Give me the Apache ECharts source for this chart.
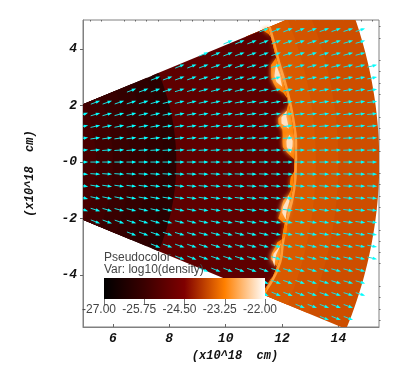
<!DOCTYPE html>
<html>
<head>
<meta charset="utf-8">
<style>
  html, body { margin: 0; padding: 0; background: #fff; }
  #chart { width: 415px; height: 386px; }
</style>
<script src="https://cdn.jsdelivr.net/npm/echarts@6/dist/echarts.min.js"></script>
</head>
<body>
<div id="chart"></div>
<script>
// axis ticks
const xMajorTicks = [6, 8, 10, 12, 14];
const xMinorTicks = [5.2, 5.6, 6.4, 6.8, 7.2, 7.6, 8.4, 8.8, 9.2, 9.6, 10.4, 10.8, 11.2, 11.6, 12.4, 12.8, 13.2, 13.6, 14.4, 14.8, 15.2];
const yMajorTicks = [-4, -2, 0, 2, 4];
const yMinorTicks = [-5.6, -5.2, -4.8, -4.4, -3.6, -3.2, -2.8, -2.4, -1.6, -1.2, -0.8, -0.4, 0.4, 0.8, 1.2, 1.6, 2.4, 2.8, 3.2, 3.6, 4.4, 4.8];
const colorBarTicks = [-27, -25.75, -24.5, -23.25, -22];
const colorBarColors = ['#000000', '#3a0000', '#7f0000', '#ff8000', '#ffffff'];

// polar mesh, one radius per angle from -22.5 to 22.5 degrees
const meshAngles = [-22.5, -21.5, -20.5, -19.5, -18.5, -17.5, -16.5, -15.5, -14.5, -13.5, -12.5, -11.5, -10.5, -9.5, -8.5, -7.5, -6.5, -5.5, -4.5, -3.5, -2.5, -1.5, -0.5, 0.5, 1.5, 2.5, 3.5, 4.5, 5.5, 6.5, 7.5, 8.5, 9.5, 10.5, 11.5, 12.5, 13.5, 14.5, 15.5, 16.5, 17.5, 18.5, 19.5, 20.5, 21.5, 22.5];
const frontRadius = [12.33, 12.35, 12.40, 12.44, 12.47, 12.48, 12.49, 12.48, 12.44, 12.41, 12.40, 12.39, 12.39, 12.40, 12.42, 12.44, 12.47, 12.49, 12.51, 12.52, 12.53, 12.53, 12.53, 12.54, 12.54, 12.55, 12.56, 12.56, 12.55, 12.54, 12.53, 12.52, 12.51, 12.50, 12.49, 12.48, 12.47, 12.46, 12.45, 12.45, 12.46, 12.47, 12.49, 12.51, 12.53, 12.55];
const clumpRadius = [12.22, 12.32, 12.27, 12.32, 12.40, 12.42, 12.10, 12.08, 12.13, 12.17, 12.37, 12.41, 12.38, 12.03, 12.08, 12.09, 12.12, 12.28, 12.36, 12.30, 12.32, 12.44, 12.46, 12.42, 12.20, 12.04, 12.04, 12.06, 12.07, 11.95, 11.97, 12.30, 12.38, 12.39, 12.29, 12.08, 12.02, 12.00, 12.05, 12.11, 12.38, 12.41, 12.42, 12.43, 12.38, 12.23];
const coreInner = [12.3, 12.3, 12.3, 12.3, 12.3, 12.3, 12.16, 12.14, 12.24, 12.3, 12.3, 12.3, 12.3, 12.3, 12.14, 12.14, 12.22, 12.3, 12.3, 12.3, 12.3, 12.3, 12.3, 12.3, 12.3, 12.18, 12.18, 12.3, 12.3, 12.06, 12.08, 12.3, 12.3, 12.3, 12.3, 12.3, 12.14, 12.12, 12.2, 12.3, 12.3, 12.3, 12.3, 12.3, 12.3, 12.3];
const coreOuter = [12.3, 12.3, 12.3, 12.3, 12.3, 12.3, 12.26, 12.24, 12.28, 12.3, 12.3, 12.3, 12.3, 12.3, 12.28, 12.3, 12.34, 12.3, 12.3, 12.3, 12.3, 12.3, 12.3, 12.3, 12.3, 12.38, 12.4, 12.3, 12.3, 12.28, 12.26, 12.3, 12.3, 12.3, 12.3, 12.3, 12.3, 12.32, 12.3, 12.3, 12.3, 12.3, 12.3, 12.3, 12.3, 12.3];

// log10(density) of the smooth zones, outermost first
const shellRadius = [15.45, 14.0, 13.2];
const shellDensity = [-23.74, -23.68, -23.62];
const windRadius = [7.8, 7.2, 6.6, 6.0, 5.4];
const windDensity = [-26.0, -25.9, -25.8, -25.65, -25.5];
const ambientDensity = -25.1;
const windEdgeDensity = -26.1;
const windEdgeRadius = 8.25;
const glowDensity = -23.25;
const frontDensity = -22.95;
const coreDensity = -22.3;

// velocity glyphs, angle in degrees per column, rows mirrored about y=0
const arrowColumns = [5.02, 5.45, 5.87, 6.30, 6.73, 7.16, 7.58, 8.01, 8.44, 8.87, 9.29, 9.72, 10.15, 10.57, 11.00, 11.43, 11.86, 12.28, 12.71, 13.14, 13.57, 13.99, 14.42, 14.85, 15.27];
const arrowRows = [0, 0.427, 0.855, 1.282, 1.709, 2.137, 2.564, 2.991, 3.418, 3.846, 4.273, 4.70, 5.128, 5.555];
const arrowFirstColumn = [0, 0, 0, 0, 0, 1, 4, 6, 8, 10, 12, 15, 18, 20];
const arrowAngles = [
  [0, 0, 0, 0, 0, 0, 0, 0, 0, 0, 0, 0, 0, 0, 0, 0, 0, 0, 0, 0, 0, 0, 0, 0, 0],
  [5, 4, 4, 4, 4, 3, 3, 3, 3, 3, 3, 3, 2, 2, 2, 2, 2, 2, 2, 2, 2, 2, 2, 2, 2],
  [10, 9, 8, 8, 7, 7, 6, 6, 6, 6, 5, 5, 5, 5, 4, 4, 4, 4, 4, 4, 4, 4, 3, 3, 3],
  [14, 13, 12, 12, 11, 10, 10, 9, 9, 8, 8, 8, 7, 7, 7, 6, 6, 6, 6, 6, 5, 5, 5, 5, 5],
  [19, 17, 16, 15, 14, 13, 13, 12, 11, 11, 10, 10, 10, 9, 9, 9, 8, 8, 8, 7, 7, 7, 7, 7, 6],
  [21, 20, 19, 18, 17, 16, 15, 14, 14, 13, 12, 12, 11, 11, 11, 10, 10, 10, 9, 9, 9, 8, 8, 8],
  [21, 20, 19, 18, 17, 16, 15, 15, 14, 14, 13, 13, 12, 12, 11, 11, 11, 10, 10, 10, 10],
  [22, 20, 20, 19, 18, 17, 16, 16, 15, 15, 14, 14, 13, 13, 12, 12, 12, 11, 11],
  [22, 21, 20, 19, 19, 18, 17, 17, 16, 16, 15, 15, 14, 14, 13, 13, 13],
  [22, 22, 21, 20, 19, 19, 18, 17, 17, 16, 16, 15, 15, 15],
  [23, 22, 21, 20, 20, 19, 19, 18, 17, 17, 16, 16],
  [22, 22, 21, 20, 20, 19, 19, 18, 18],
  [22, 21, 21, 20, 20],
  [22, 22, 21]
];

const xRange = [4.94, 15.44];
const yRange = [-5.84, 5.03];

function colorOf(density) {
  return echarts.color.lerp((density + 27) / 5, colorBarColors);
}

function radiusAt(edge, i) {
  return Array.isArray(edge) ? edge[i] : edge;
}

function toPoint(api, radius, angle) {
  const a = angle * Math.PI / 180;
  return api.coord([radius * Math.cos(a), radius * Math.sin(a)]);
}

function bandPoints(api, inner, outer) {
  const points = [];
  meshAngles.forEach((angle, i) => points.push(toPoint(api, radiusAt(outer, i), angle)));
  for (let i = meshAngles.length - 1; i >= 0; i--) {
    points.push(toPoint(api, radiusAt(inner, i), meshAngles[i]));
  }
  return points;
}

// painted back to front; the bands overlap so no seams show
const frontInner = frontRadius.map((r) => r - 0.1);
const bands = [];
shellRadius.forEach((r, i) => bands.push({ inner: 11.6, outer: r, density: shellDensity[i] }));
bands.push({ inner: 11.6, outer: frontRadius, density: frontDensity });
bands.push({ inner: 8, outer: frontInner, density: ambientDensity });
bands.push({ inner: 4.5, outer: windEdgeRadius, density: windEdgeDensity });
windRadius.forEach((r, i) => bands.push({ inner: 4.5, outer: r, density: windDensity[i] }));
bands.push({ inner: clumpRadius, outer: frontInner, density: glowDensity, glow: 4 });
bands.push({ inner: coreInner, outer: coreOuter, density: coreDensity, glow: 6 });

const arrowData = [];
arrowRows.forEach((rowY, k) => {
  arrowAngles[k].forEach((angle, j) => {
    const x = arrowColumns[arrowFirstColumn[k] + j];
    arrowData.push([x, rowY, angle]);
    if (k > 0) arrowData.push([x, -rowY, -angle]);
  });
});

function renderBand(params, api) {
  const band = bands[params.dataIndex];
  const color = colorOf(band.density);
  const style = { fill: color, stroke: null };
  if (band.glow) {
    style.shadowBlur = band.glow;
    style.shadowColor = color;
  }
  return {
    type: 'polygon',
    shape: { points: bandPoints(api, band.inner, band.outer) },
    style,
  };
}

function renderArrow(params, api) {
  const head = api.coord([api.value(0), api.value(1)]);
  const a = api.value(2) * Math.PI / 180;
  const ux = Math.cos(a);
  const uy = -Math.sin(a);
  const at = (along, side) => [head[0] + ux * along - uy * side, head[1] + uy * along + ux * side];
  return {
    type: 'group',
    children: [
      {
        type: 'polyline',
        shape: { points: [at(-7, 0), at(1, 0)] },
        style: { stroke: '#20dcdc', lineWidth: 1, fill: null },
      },
      {
        type: 'polygon',
        shape: { points: [at(3, 0), at(-1.5, 1.6), at(-1.5, -1.6)] },
        style: { fill: '#00ffff', stroke: null },
      },
    ],
  };
}

function renderColorBar(params, api) {
  const start = api.coord([colorBarTicks[0], 1]);
  const end = api.coord([colorBarTicks[colorBarTicks.length - 1], 0]);
  const stops = colorBarColors.map((color, i) => ({ offset: i / (colorBarColors.length - 1), color }));
  return {
    type: 'rect',
    shape: { x: start[0], y: start[1], width: end[0] - start[0], height: end[1] - start[1] },
    style: { fill: new echarts.graphic.LinearGradient(0, 0, 1, 0, stops) },
  };
}

const titleFont = {
  fontFamily: 'Liberation Mono',
  fontWeight: 'bold',
  fontStyle: 'italic',
  color: '#111',
};

const chart = echarts.init(document.getElementById('chart'), null, { renderer: 'canvas' });
chart.setOption({
  animation: false,
  grid: [
    { left: 83, right: 36, top: 20, height: 307, show: true, borderColor: '#808080', borderWidth: 1, backgroundColor: 'transparent' },
    { left: 104, width: 161, top: 278, height: 21 },
  ],
  xAxis: [
    {
      type: 'value',
      gridIndex: 0,
      min: xRange[0],
      max: xRange[1],
      splitLine: { show: false },
      axisLine: { onZero: false, lineStyle: { color: '#808080' } },
      axisTick: { inside: true, length: 3, customValues: xMajorTicks, lineStyle: { color: '#666' } },
      axisLabel: { customValues: xMajorTicks, margin: 5, fontSize: 13, ...titleFont },
      name: '(x10^18  cm)',
      nameLocation: 'middle',
      nameGap: 20,
      nameTextStyle: { fontSize: 12, padding: [0, 0, 0, 8], ...titleFont },
    },
    {
      type: 'value',
      gridIndex: 0,
      min: xRange[0],
      max: xRange[1],
      splitLine: { show: false },
      axisLine: { show: false, onZero: false },
      axisTick: { inside: true, length: 1.5, customValues: xMinorTicks, lineStyle: { color: '#666' } },
      axisLabel: { show: false },
    },
    {
      type: 'value',
      gridIndex: 1,
      min: colorBarTicks[0],
      max: colorBarTicks[colorBarTicks.length - 1],
      splitLine: { show: false },
      axisLine: { show: false, onZero: false },
      axisTick: { length: 6, customValues: colorBarTicks, lineStyle: { color: '#777' } },
      axisLabel: {
        customValues: colorBarTicks,
        margin: 5,
        padding: [0, 10, 0, 0],
        fontFamily: 'Liberation Sans',
        fontSize: 12,
        color: '#444',
        formatter: (value) => value.toFixed(2),
      },
    },
  ],
  yAxis: [
    {
      type: 'value',
      gridIndex: 0,
      min: yRange[0],
      max: yRange[1],
      splitLine: { show: false },
      axisLine: { onZero: false, lineStyle: { color: '#808080' } },
      axisTick: { length: 3, customValues: yMajorTicks, lineStyle: { color: '#666' } },
      axisLabel: {
        customValues: yMajorTicks,
        margin: 6,
        fontSize: 13,
        ...titleFont,
        formatter: (value) => (value <= 0 ? '-' + Math.abs(value) : String(value)),
      },
      name: '(x10^18  cm)',
      nameLocation: 'middle',
      nameGap: 47,
      nameTextStyle: { fontSize: 12, ...titleFont },
    },
    {
      type: 'value',
      gridIndex: 0,
      min: yRange[0],
      max: yRange[1],
      splitLine: { show: false },
      axisLine: { show: false, onZero: false },
      axisTick: { length: 1.5, customValues: yMinorTicks, lineStyle: { color: '#666' } },
      axisLabel: { show: false },
    },
    {
      type: 'value',
      gridIndex: 1,
      min: 0,
      max: 1,
      show: false,
    },
  ],
  series: [
    {
      type: 'custom',
      xAxisIndex: 0,
      yAxisIndex: 0,
      coordinateSystem: 'cartesian2d',
      clip: true,
      silent: true,
      z: 2,
      data: bands.map((band, i) => [i]),
      encode: { x: [], y: [] },
      renderItem: renderBand,
    },
    {
      type: 'custom',
      xAxisIndex: 0,
      yAxisIndex: 0,
      coordinateSystem: 'cartesian2d',
      clip: true,
      silent: true,
      z: 3,
      data: arrowData,
      encode: { x: 0, y: 1 },
      renderItem: renderArrow,
    },
    {
      type: 'custom',
      xAxisIndex: 2,
      yAxisIndex: 2,
      coordinateSystem: 'cartesian2d',
      silent: true,
      z: 4,
      data: [[0]],
      encode: { x: [], y: [] },
      renderItem: renderColorBar,
    },
  ],
  graphic: [
    { type: 'text', left: 104, top: 252, z: 100, style: { text: 'Pseudocolor', fontFamily: 'Liberation Sans', fontSize: 12, fill: '#444' } },
    { type: 'text', left: 104, top: 264, z: 100, style: { text: 'Var: log10(density)', fontFamily: 'Liberation Sans', fontSize: 12, fill: '#444' } },
  ],
});
</script>
</body>
</html>
